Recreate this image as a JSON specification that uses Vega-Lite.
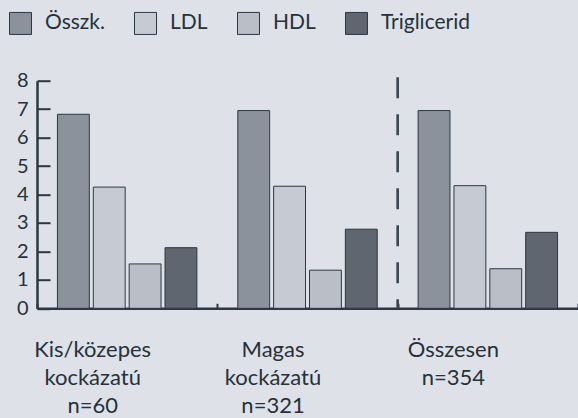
{
  "$schema": "https://vega.github.io/schema/vega-lite/v6.json",
  "autosize": "none",
  "width": 541,
  "height": 227.6,
  "padding": {"left": 37, "top": 80.7, "right": 0, "bottom": 110},
  "background": "#dee2e8",
  "config": {
    "view": {"stroke": null},
    "font": "Lato",
    "axis": {"domainColor": "#2c3740", "tickColor": "#2c3740", "labelColor": "#26313a", "grid": false, "title": null}
  },
  "datasets": {
    "bars": [
      {"group": "Kis/közepes kockázatú n=60", "lipid": "Összk.", "value": 6.82},
      {"group": "Kis/közepes kockázatú n=60", "lipid": "LDL", "value": 4.26},
      {"group": "Kis/közepes kockázatú n=60", "lipid": "HDL", "value": 1.56},
      {"group": "Kis/közepes kockázatú n=60", "lipid": "Triglicerid", "value": 2.13},
      {"group": "Magas kockázatú n=321", "lipid": "Összk.", "value": 6.95},
      {"group": "Magas kockázatú n=321", "lipid": "LDL", "value": 4.29},
      {"group": "Magas kockázatú n=321", "lipid": "HDL", "value": 1.34},
      {"group": "Magas kockázatú n=321", "lipid": "Triglicerid", "value": 2.78},
      {"group": "Összesen n=354", "lipid": "Összk.", "value": 6.95},
      {"group": "Összesen n=354", "lipid": "LDL", "value": 4.31},
      {"group": "Összesen n=354", "lipid": "HDL", "value": 1.39},
      {"group": "Összesen n=354", "lipid": "Triglicerid", "value": 2.67}
    ],
    "divider": [
      {"group": "Összesen n=354", "value": 8.12, "bottom": 0}
    ]
  },
  "layer": [
    {
      "data": {"name": "bars"},
      "mark": {"type": "bar", "stroke": "#2c3740", "strokeWidth": 1},
      "encoding": {
        "x": {
          "field": "group",
          "type": "nominal",
          "sort": null,
          "scale": {"paddingInner": 0, "paddingOuter": 0},
          "axis": {
            "labelAngle": 0,
            "labelExpr": "split(datum.label, ' ')",
            "labelFontSize": 22,
            "labelLineHeight": 28,
            "labelBaseline": "top",
            "labelPadding": 36,
            "labelOffset": -35,
            "tickBand": "extent",
            "tickSize": -5,
            "tickWidth": 2,
            "domainWidth": 2.5
          }
        },
        "xOffset": {
          "field": "lipid",
          "type": "nominal",
          "sort": ["Összk.", "LDL", "HDL", "Triglicerid"],
          "scale": {"paddingInner": 0.111, "paddingOuter": 0.57}
        },
        "y": {
          "field": "value",
          "type": "quantitative",
          "scale": {"domain": [0, 8], "nice": false},
          "axis": {
            "values": [0, 1, 2, 3, 4, 5, 6, 7, 8],
            "labelOverlap": false,
            "tickSize": -13,
            "tickWidth": 2,
            "domainWidth": 2.5,
            "labelPadding": 22,
            "labelFontSize": 20
          }
        },
        "fill": {
          "field": "lipid",
          "type": "nominal",
          "sort": ["Összk.", "LDL", "HDL", "Triglicerid"],
          "scale": {"domain": ["Összk.", "LDL", "HDL", "Triglicerid"], "range": ["#8c929b", "#c6cbd3", "#b9bec7", "#5f6670"]},
          "legend": {
            "title": null,
            "orient": "none",
            "direction": "horizontal",
            "legendX": -28,
            "legendY": -69,
            "symbolType": "square",
            "symbolSize": 484,
            "symbolStrokeColor": "#2c3740",
            "symbolStrokeWidth": 1,
            "labelFontSize": 21,
            "labelColor": "#26313a",
            "labelOffset": 13,
            "columnPadding": 27
          }
        }
      }
    },
    {
      "data": {"name": "divider"},
      "mark": {"type": "rule", "stroke": "#3a4650", "strokeWidth": 2.6, "strokeDash": [21, 16]},
      "encoding": {
        "x": {
          "field": "group",
          "type": "nominal",
          "sort": null,
          "bandPosition": 0,
          "scale": {"paddingInner": 0, "paddingOuter": 0},
          "axis": {
            "labelAngle": 0,
            "labelExpr": "split(datum.label, ' ')",
            "labelFontSize": 22,
            "labelLineHeight": 28,
            "labelBaseline": "top",
            "labelPadding": 36,
            "labelOffset": -35,
            "tickBand": "extent",
            "tickSize": -5,
            "tickWidth": 2,
            "domainWidth": 2.5
          }
        },
        "y": {
          "field": "value",
          "type": "quantitative",
          "scale": {"domain": [0, 8], "nice": false},
          "axis": {
            "values": [0, 1, 2, 3, 4, 5, 6, 7, 8],
            "labelOverlap": false,
            "tickSize": -13,
            "tickWidth": 2,
            "domainWidth": 2.5,
            "labelPadding": 22,
            "labelFontSize": 20
          }
        },
        "y2": {"field": "bottom"}
      }
    }
  ]
}
